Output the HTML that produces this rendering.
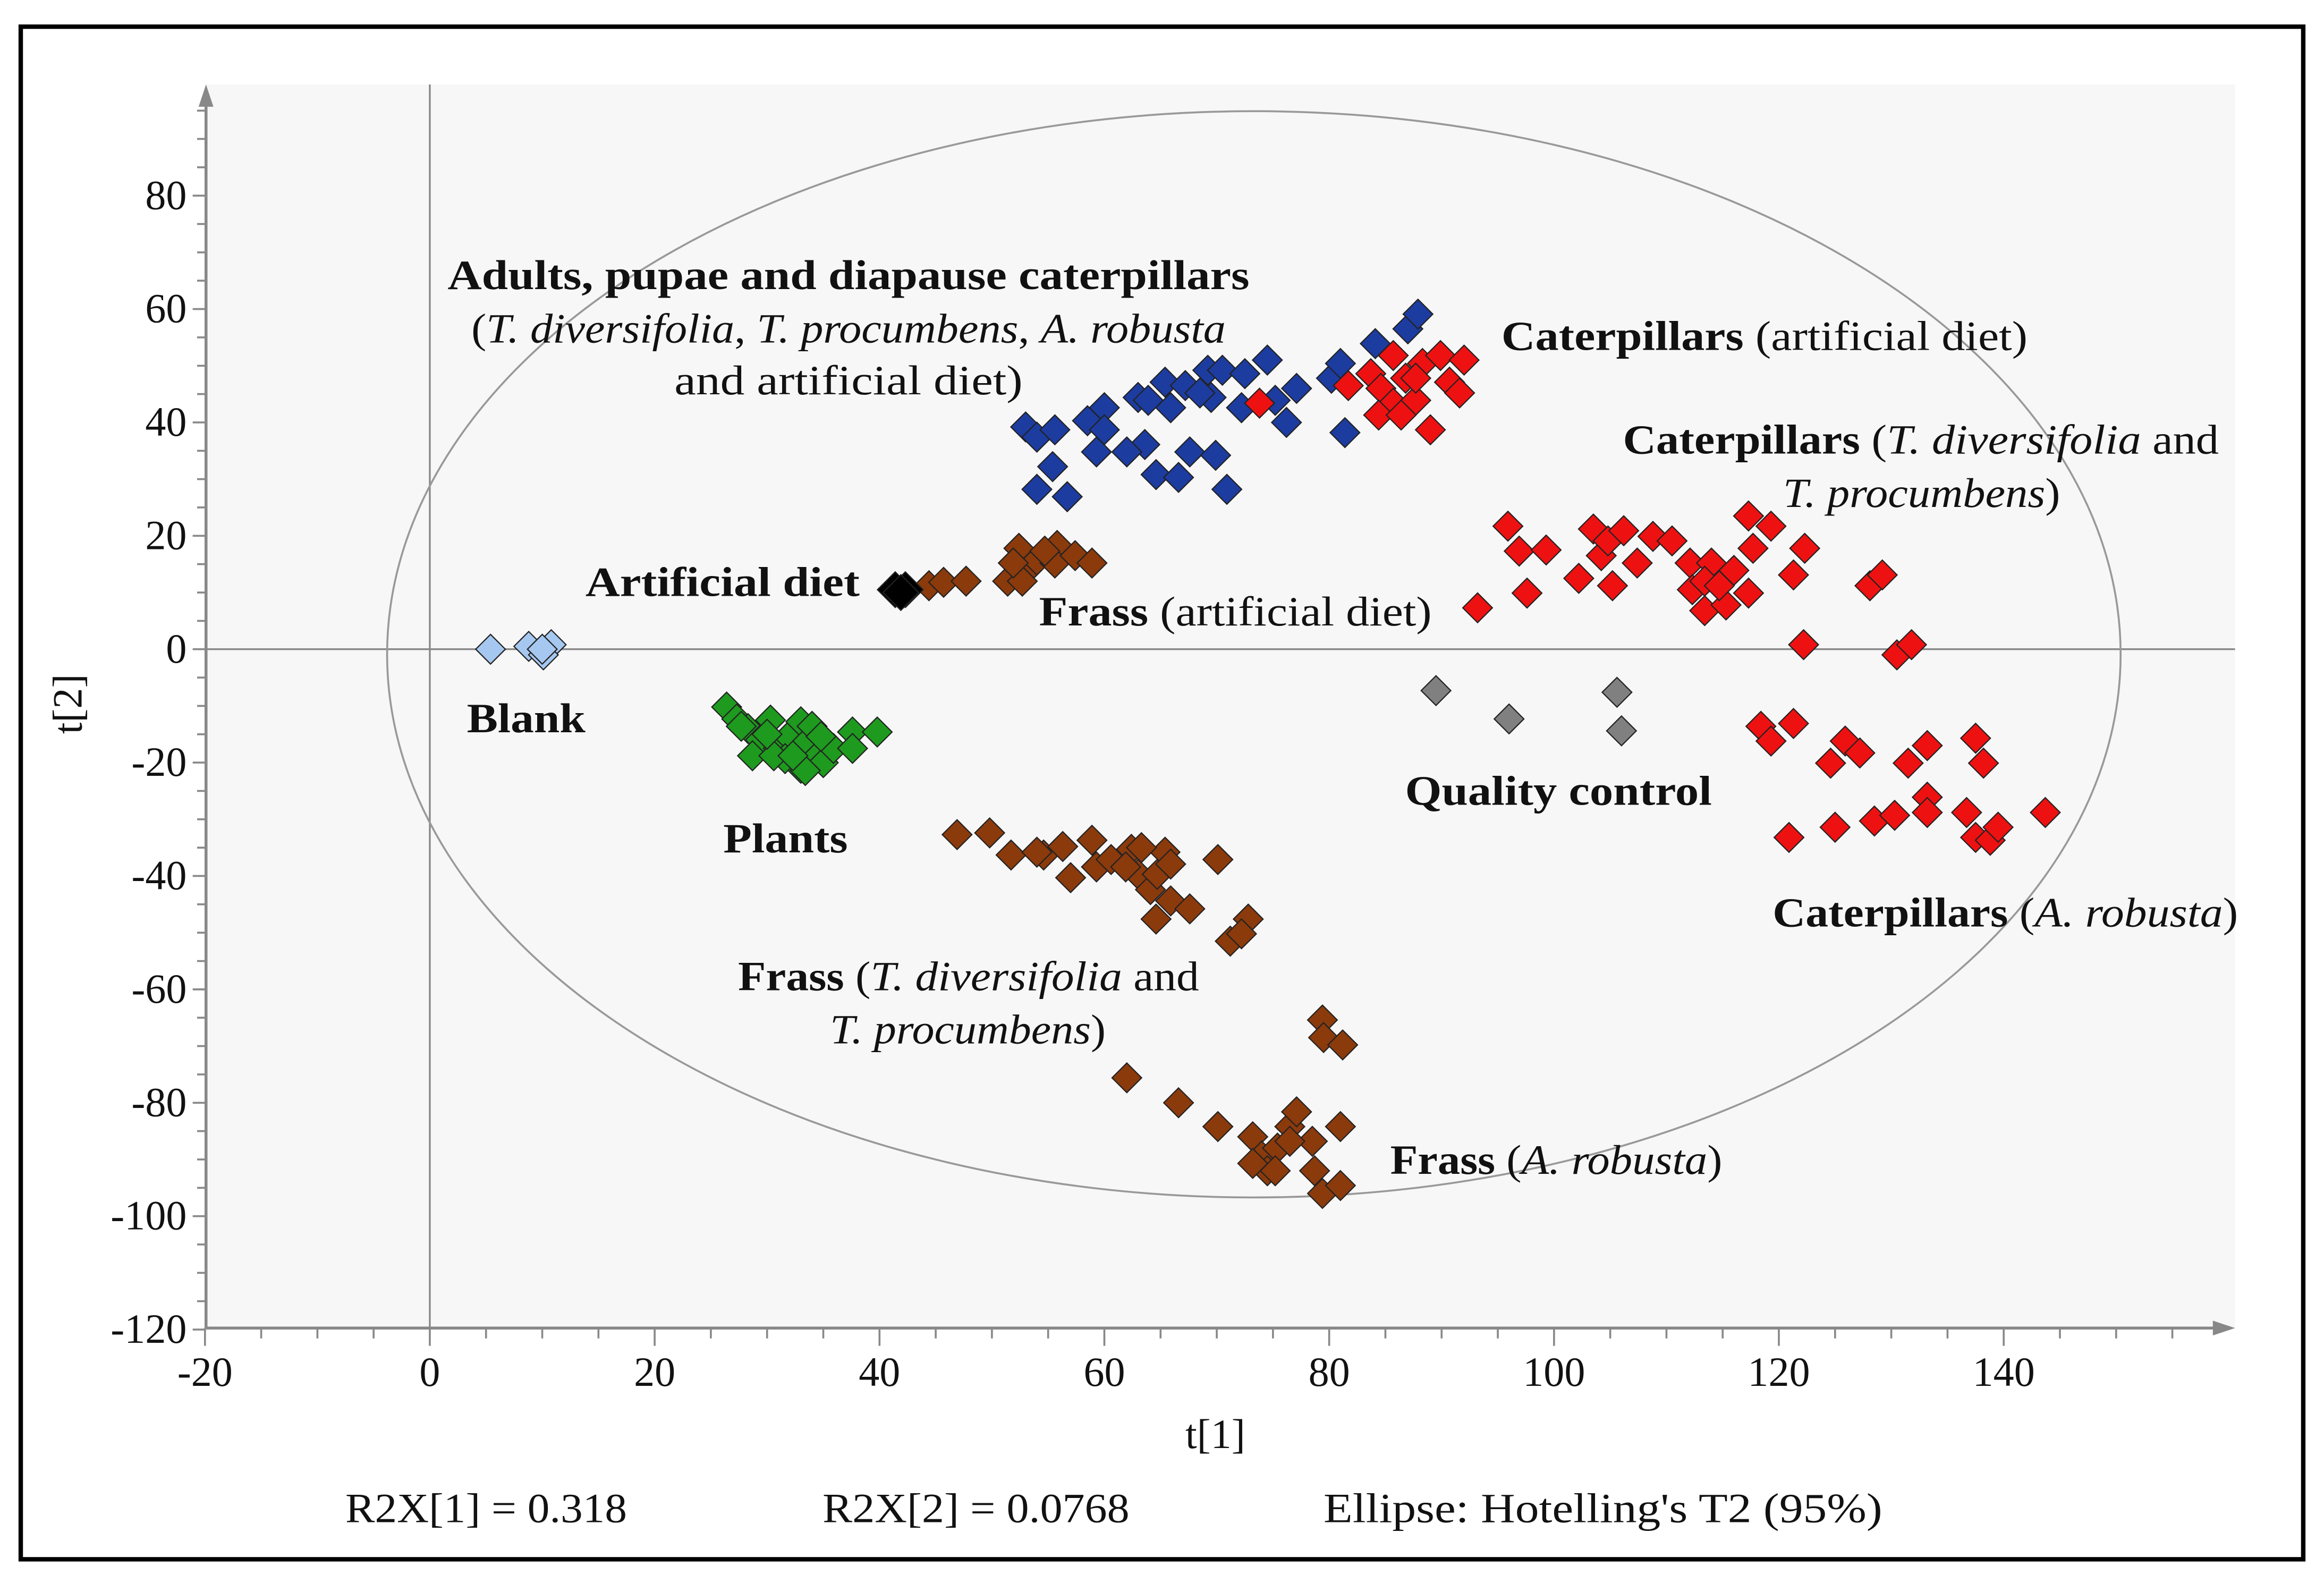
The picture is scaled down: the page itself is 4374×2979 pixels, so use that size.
<!DOCTYPE html>
<html><head><meta charset="utf-8"><style>
html,body{margin:0;padding:0;background:#fff}
svg{display:block}
text{font-family:"Liberation Serif",serif;fill:#111}
</style></head><body>
<svg id="chart" width="4374" height="2979" viewBox="0 0 1568 1068" preserveAspectRatio="none" xmlns="http://www.w3.org/2000/svg">
<rect x="14" y="18" width="1540" height="1034" fill="#fff" stroke="#000" stroke-width="3"/>
<rect x="139" y="57" width="1369" height="839" fill="#f7f7f7"/>
<g id="axes"></g>
<g id="marks"></g>
<g font-size="28" lengthAdjust="spacingAndGlyphs">
<text x="302" y="195" textLength="541" lengthAdjust="spacingAndGlyphs" font-weight="bold">Adults, pupae and diapause caterpillars</text>
<text x="318" y="231" textLength="509" lengthAdjust="spacingAndGlyphs">(<tspan font-style="italic">T. diversifolia</tspan>, <tspan font-style="italic">T. procumbens</tspan>, <tspan font-style="italic">A. robusta</tspan></text>
<text x="455" y="266" textLength="235" lengthAdjust="spacingAndGlyphs">and artificial diet)</text>
<text x="1013" y="236" textLength="355" lengthAdjust="spacingAndGlyphs"><tspan font-weight="bold">Caterpillars</tspan> (artificial diet)</text>
<text x="1095" y="306" textLength="402" lengthAdjust="spacingAndGlyphs"><tspan font-weight="bold">Caterpillars</tspan> (<tspan font-style="italic">T. diversifolia</tspan> and</text>
<text x="1203" y="342" textLength="187" lengthAdjust="spacingAndGlyphs"><tspan font-style="italic">T. procumbens</tspan>)</text>
<text x="395" y="402" textLength="185" lengthAdjust="spacingAndGlyphs" font-weight="bold">Artificial diet</text>
<text x="701" y="422" textLength="265" lengthAdjust="spacingAndGlyphs"><tspan font-weight="bold">Frass</tspan> (artificial diet)</text>
<text x="315" y="494" textLength="80" lengthAdjust="spacingAndGlyphs" font-weight="bold">Blank</text>
<text x="948" y="543" textLength="207" lengthAdjust="spacingAndGlyphs" font-weight="bold">Quality control</text>
<text x="488" y="575" textLength="84" lengthAdjust="spacingAndGlyphs" font-weight="bold">Plants</text>
<text x="1196" y="625" textLength="314" lengthAdjust="spacingAndGlyphs"><tspan font-weight="bold">Caterpillars</tspan> (<tspan font-style="italic">A. robusta</tspan>)</text>
<text x="498" y="668" textLength="311" lengthAdjust="spacingAndGlyphs"><tspan font-weight="bold">Frass</tspan> (<tspan font-style="italic">T. diversifolia</tspan> and</text>
<text x="560" y="704" textLength="186" lengthAdjust="spacingAndGlyphs"><tspan font-style="italic">T. procumbens</tspan>)</text>
<text x="938" y="792" textLength="224" lengthAdjust="spacingAndGlyphs"><tspan font-weight="bold">Frass</tspan> (<tspan font-style="italic">A. robusta</tspan>)</text>
<text x="820" y="977" text-anchor="middle">t[1]</text>
<text x="0" y="0" text-anchor="middle" transform="translate(55,475) rotate(-90)">t[2]</text>
<text x="233" y="1027" textLength="190" lengthAdjust="spacingAndGlyphs">R2X[1] = 0.318</text>
<text x="555" y="1027" textLength="207" lengthAdjust="spacingAndGlyphs">R2X[2] = 0.0768</text>
<text x="893" y="1027" textLength="377" lengthAdjust="spacingAndGlyphs">Ellipse: Hotelling's T2 (95%)</text>
</g>
</svg>
<script>
const xTicks = [-20,0,20,40,60,80,100,120,140];
const yTicks = [80,60,40,20,0,-20,-40,-60,-80,-100,-120];
const ellipseCenter = [73.3, -0.9];
const ellipseRadii = [77.1, 95.8];
const blankX = [5.4,8.8,10.8,10.1,10];
const blankY = [0,0.5,0.8,-1,0];
const dietX = [41.4,42.3,41.9];
const dietY = [10.5,10.5,10];
const plantsX = [26.4,27.3,28.3,29.4,30.3,31,31.9,33,33.6,34,34.5,33,31.6,35,35.9,37.6,39.8,28.7,30.6,33.4,30,27.7,32.3,37.6,34.8];
const plantsY = [-10.2,-12.3,-14,-16,-12.5,-17.5,-15.4,-12.8,-16.2,-13.6,-18.8,-21,-19.3,-20,-17.5,-14.6,-14.6,-18.8,-18.8,-21.4,-15,-13.6,-18.8,-17.5,-15.4];
const frassDietX = [44.4,45.7,47.7,51.4,52.4,53.1,54,55.8,55.6,57.4,58.9,52.7,51.9,54.7];
const frassDietY = [11.2,11.8,12,12,17.8,13.9,15.7,18.3,15.2,16.5,15.2,12,15.2,17.3];
const frassTdivX = [46.9,49.8,51.7,54.6,56.3,57,58.9,59.3,60.6,62.4,63,64.1,64.7,65.4,65.9,64.6,65.9,67.6,70.1,71.2,72.8,72.2,54,61.9,63.3];
const frassTdivY = [-32.7,-32.4,-36.3,-36.3,-34.8,-40.3,-33.7,-38.4,-37.1,-35.3,-39.7,-42.4,-39.7,-35.8,-37.9,-47.6,-44.4,-45.8,-37.1,-51.5,-47.6,-50.2,-35.8,-38.4,-35];
const frassArobX = [62,66.6,70.1,73.2,74,74.5,75.4,76.5,77.1,78.5,78.7,79.4,81,81,79.4,79.5,81.2,75.2,73.2,76.5];
const frassArobY = [-75.6,-80,-84.2,-86,-89.4,-92,-88,-84.2,-81.6,-86.8,-92,-96,-94.6,-84.2,-65.4,-68.5,-69.8,-92,-90.7,-86.8];
const adultsX = [53,54,55.6,55.4,54,56.7,58.5,59.3,60,60,63,63.6,64.6,65.4,65.9,66.6,67.2,67.6,69.2,69.5,70.5,69.9,70.9,72.2,72.5,74.5,75.2,76.2,77.1,80.2,81,81.4,84.1,87,87.9,63.9,68.5,62];
const adultsY = [39.2,37.4,38.7,32.2,28.2,26.9,40.3,34.8,42.6,38.7,44.4,36.1,30.8,47.1,42.6,30.3,46.5,34.8,49.2,44.4,49.2,34.2,28.2,42.6,48.6,51,43.9,40,46,47.8,50.4,38.2,53.9,56.5,59.1,43.9,45.2,34.8];
const catDietX = [81.7,83.7,84.6,85.7,86.8,87.7,88.3,89,89.9,90.7,91.6,92,85.7,84.4,86.4,87.7,73.8];
const catDietY = [46.5,48.6,46,43.4,47.8,43.9,50.4,38.7,51.8,47.1,45.2,51,51.8,41.3,41.3,47.8,43.4];
const catTdivX = [93.2,95.9,96.9,97.6,99.3,102.2,103.5,104.2,104.8,105.2,106.2,107.4,108.8,110.5,112.1,112.3,113.4,114,115.3,116,117.3,117.7,117.3,119.3,121.3,122.3,122.2,128.1,129.2,130.5,131.8,113.4,114.7];
const catTdivY = [7.3,21.7,17.3,9.9,17.5,12.5,21.2,16.5,19.1,11.2,20.9,15.2,19.9,19.1,15.2,10.5,6.8,15.2,7.8,13.9,9.9,17.8,23.5,21.7,13.1,17.8,0.8,11.2,13.1,-1,0.8,12,11.2];
const catArobX = [118.4,119.3,121.3,120.9,124.6,125.9,127.2,125,128.5,130.3,131.5,133.2,133.2,133.2,136.7,137.5,138.2,137.5,138.8,139.5,143.7];
const catArobY = [-13.6,-16.2,-13.1,-33.2,-20.1,-16.2,-18.3,-31.4,-30.3,-29.3,-20.1,-17,-26.1,-28.8,-28.8,-15.7,-20.1,-33.2,-33.7,-31.4,-28.8];
const qcX = [89.5,96,105.6,106];
const qcY = [-7.3,-12.3,-7.6,-14.4];

const NS='http://www.w3.org/2000/svg';
const X0=290, XS=151.7/20, Y0=438, YS=76.5/20;
function sx(v){return X0+v*XS;}
function sy(v){return Y0-v*YS;}
function mk(tag,parent,attrs){const e=document.createElementNS(NS,tag);for(const k in attrs)e.setAttribute(k,attrs[k]);parent.appendChild(e);return e;}
const axes=document.getElementById('axes'), marks=document.getElementById('marks');

let zl=mk('line',axes,{x1:sx(0),x2:sx(0),y1:57,y2:896,stroke:'#888','stroke-width':1.2});


zl=mk('line',axes,{x1:139,x2:1508,y1:sy(0),y2:sy(0),stroke:'#888','stroke-width':1.2});


const el=mk('ellipse',axes,{cx:sx(ellipseCenter[0]),cy:sy(ellipseCenter[1]),rx:ellipseRadii[0]*XS,ry:ellipseRadii[1]*YS,fill:'none',stroke:'#999','stroke-width':1.3});


let ax=mk('line',axes,{x1:139,x2:139,y1:896,y2:70,stroke:'#888','stroke-width':2});


ax=mk('polygon',axes,{points:'134,72 144,72 139,57',fill:'#888'});


ax=mk('line',axes,{x1:139,x2:1495,y1:896,y2:896,stroke:'#888','stroke-width':2});


ax=mk('polygon',axes,{points:'1493,891 1493,901 1508,896',fill:'#888'});


for(let v=-20; v<=155; v+=5){ if(v%20!==0){const t=mk('line',axes,{x1:sx(v),x2:sx(v),y1:896,y2:903,stroke:'#888','stroke-width':1.3});

}}
for(let v=-120; v<=95; v+=5){ if(v%20!==0){const t=mk('line',axes,{x1:133,x2:139,y1:sy(v),y2:sy(v),stroke:'#888','stroke-width':1.3});

}}
xTicks.forEach(v=>{
 const t=mk('line',axes,{x1:sx(v),x2:sx(v),y1:896,y2:908,stroke:'#888','stroke-width':1.3});
 
 
 const l=mk('text',axes,{x:sx(v),y:935,'text-anchor':'middle','font-size':28});
 l.textContent=v;
 
 
});
yTicks.forEach(v=>{
 const t=mk('line',axes,{x1:130,x2:139,y1:sy(v),y2:sy(v),stroke:'#888','stroke-width':1.3});
 
 
 const l=mk('text',axes,{x:126,y:sy(v)+9,'text-anchor':'end','font-size':28});
 l.textContent=v;
 
 
});
function series(xs,ys,fill,name,r){
 const g=mk('g',marks,{});
 
 
 xs.forEach((x,i)=>{
  const cx=sx(x), cy=sy(ys[i]);
  const p=mk('polygon',g,{points:`${cx},${cy-r} ${cx+r},${cy} ${cx},${cy+r} ${cx-r},${cy}`,fill:fill,stroke:'#222','stroke-width':0.8});
  
  
 });
}
series(blankX,blankY,'#a6c8f0','blank-series',10);
series(plantsX,plantsY,'#1e9a1e','plants-series',10);
series(frassDietX,frassDietY,'#8b3a0c','frass-artificial-series',10);
series(frassTdivX,frassTdivY,'#8b3a0c','frass-tdiv-series',10);
series(frassArobX,frassArobY,'#8b3a0c','frass-arobusta-series',10);
series(adultsX,adultsY,'#1c3ca0','adults-series',10);
series(catDietX,catDietY,'#ee1111','caterpillars-artificial-series',10);
series(catTdivX,catTdivY,'#ee1111','caterpillars-tdiv-series',10);
series(catArobX,catArobY,'#ee1111','caterpillars-arobusta-series',10);
series(qcX,qcY,'#808080','quality-control-series',10);
series(dietX,dietY,'#000000','artificial-diet-series',12);
</script>
</body></html>
